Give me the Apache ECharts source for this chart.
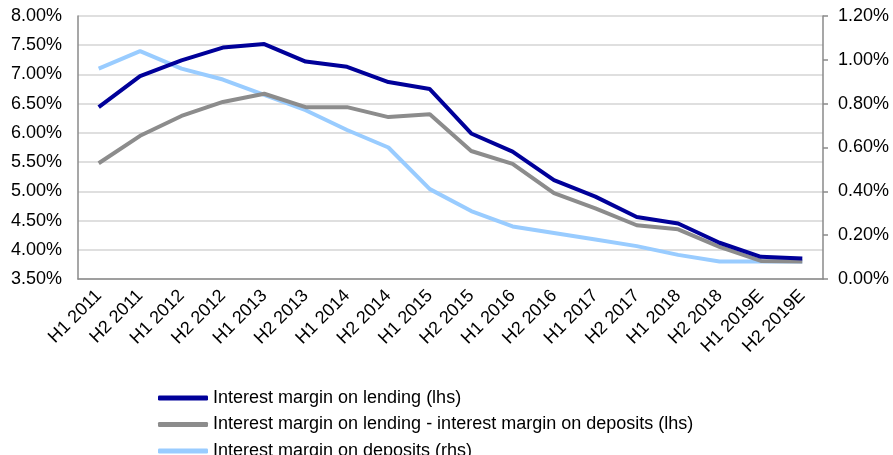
<!DOCTYPE html>
<html>
<head>
<meta charset="utf-8">
<script src="https://cdn.jsdelivr.net/npm/echarts@6/dist/echarts.min.js"></script>
<style>
  html, body { margin: 0; padding: 0; background: #fff; }
  #chart { width: 893px; height: 455px; }
</style>
</head>
<body>
<div id="chart"></div>
<script>
// Half-year periods
var periods = ['H1 2011', 'H2 2011', 'H1 2012', 'H2 2012', 'H1 2013', 'H2 2013',
  'H1 2014', 'H2 2014', 'H1 2015', 'H2 2015', 'H1 2016', 'H2 2016',
  'H1 2017', 'H2 2017', 'H1 2018', 'H2 2018', 'H1 2019E', 'H2 2019E'];

// Interest margin on lending, % (left axis)
var lendingMargin = [6.44, 6.97, 7.24, 7.46, 7.52, 7.22, 7.13, 6.87, 6.75, 5.99,
  5.68, 5.19, 4.91, 4.56, 4.45, 4.12, 3.88, 3.85];

// Lending margin minus deposit margin, % (left axis)
var spreadMargin = [5.48, 5.95, 6.29, 6.53, 6.67, 6.44, 6.44, 6.27, 6.32, 5.69,
  5.47, 4.97, 4.71, 4.42, 4.35, 4.05, 3.81, 3.80];

// Interest margin on deposits, % (right axis)
var depositMargin = [0.96, 1.04, 0.96, 0.91, 0.84, 0.77, 0.68, 0.60, 0.41, 0.31,
  0.24, 0.21, 0.18, 0.15, 0.11, 0.08, 0.08, 0.08];

var seriesNames = [
  'Interest margin on lending (lhs)',
  'Interest margin on lending - interest margin on deposits (lhs)',
  'Interest margin on deposits (rhs)'
];

var FONT = '"Liberation Sans", Arial, sans-serif';
var pct = function (v) { return v.toFixed(2) + '%'; };

var chart = echarts.init(document.getElementById('chart'));
chart.setOption({
  animation: false,
  textStyle: { fontFamily: FONT },
  grid: { left: 78, right: 70, top: 16, bottom: 176 },
  legend: {
    orient: 'vertical',
    left: 153,
    top: 383,
    width: 700,
    height: 200,
    itemWidth: 50,
    itemHeight: 5,
    itemGap: 6.5,
    icon: 'roundRect',
    textStyle: { fontFamily: FONT, fontSize: 18, color: '#000', lineHeight: 20 },
    data: seriesNames
  },
  xAxis: {
    type: 'category',
    data: periods,
    boundaryGap: true,
    axisLine: { show: true, lineStyle: { color: '#8a8a8a', width: 1.5 } },
    axisTick: { show: false },
    axisLabel: { rotate: 45, fontSize: 18, color: '#000', margin: 14, fontFamily: FONT, interval: 0 }
  },
  yAxis: [
    {
      type: 'value', position: 'left', min: 3.5, max: 8, interval: 0.5,
      axisLine: { show: true, lineStyle: { color: '#8a8a8a', width: 1.5 } },
      axisTick: { show: false },
      splitLine: { show: true, lineStyle: { color: '#d4d4d4', width: 1.5 } },
      axisLabel: { formatter: pct, fontSize: 18, color: '#000', margin: 16, fontFamily: FONT }
    },
    {
      type: 'value', position: 'right', min: 0, max: 1.2, interval: 0.2,
      axisLine: { show: true, lineStyle: { color: '#8a8a8a', width: 1.5 } },
      axisTick: { show: true, length: 5, lineStyle: { color: '#8a8a8a', width: 1.5 } },
      splitLine: { show: false },
      axisLabel: { formatter: pct, fontSize: 18, color: '#000', margin: 15, fontFamily: FONT }
    }
  ],
  series: [
    {
      name: seriesNames[2], type: 'line', yAxisIndex: 1, data: depositMargin,
      showSymbol: false, z: 2,
      lineStyle: { color: '#99ccff', width: 4 }, itemStyle: { color: '#99ccff' }
    },
    {
      name: seriesNames[1], type: 'line', yAxisIndex: 0, data: spreadMargin,
      showSymbol: false, z: 3,
      lineStyle: { color: '#8c8c8c', width: 4 }, itemStyle: { color: '#8c8c8c' }
    },
    {
      name: seriesNames[0], type: 'line', yAxisIndex: 0, data: lendingMargin,
      showSymbol: false, z: 4,
      lineStyle: { color: '#000099', width: 4 }, itemStyle: { color: '#000099' }
    }
  ]
});
</script>
</body>
</html>
